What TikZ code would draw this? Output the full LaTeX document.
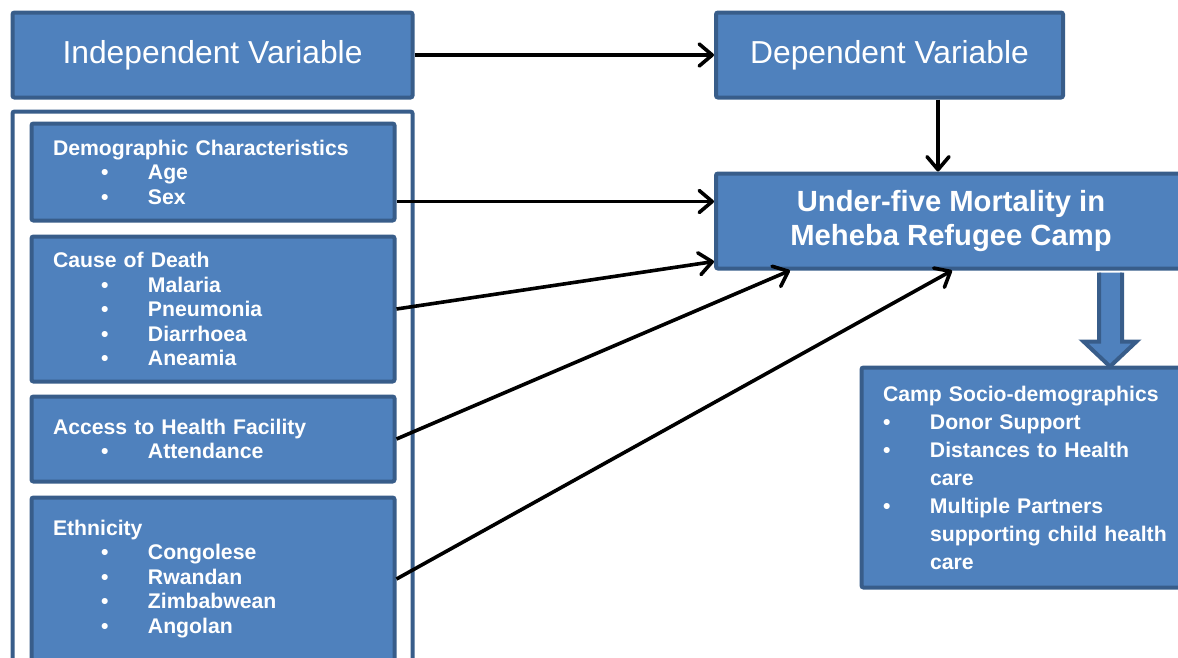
\documentclass[tikz,border=0pt]{standalone}
\usepackage{fontspec}
\setmainfont{Liberation Sans}
\usepackage{tikz}
\usetikzlibrary{arrows.meta,positioning,calc}
\definecolor{boxfill}{RGB}{79,129,189}
\definecolor{boxline}{RGB}{56,93,138}
% bullet line: indent, bullet, item
\newcommand{\bitem}[2][48pt]{\\\hspace*{#1}\makebox[47pt][l]{\textbullet}#2}

\begin{document}
\begin{tikzpicture}[x=1pt, y=-1pt,
    box/.style={draw=boxline, fill=boxfill, line width=4pt, rounded corners=2pt,
      text=white, anchor=north west},
    title/.style={box, minimum width=#1, minimum height=85pt,
      font=\fontsize{31.8pt}{38pt}\selectfont},
    catbox/.style={box, minimum height=#1, text width=320pt, inner xsep=21.5pt,
      align=left, font=\bfseries\fontsize{21.2pt}{24.5pt}\selectfont},
    link/.style={-{Straight Barb[length=13pt,width=22pt,round]}, line width=3.6pt},
    bigarrow/.style={draw=boxline, fill=boxfill, line width=4pt, line join=miter}]
    \useasboundingbox (0,0) rectangle (1178,657);
    % top row
    \node[title=400pt] (iv) at (10.5,10.5) {Independent Variable};
    \node[title=347pt] (dv) at (714,10.5) {Dependent Variable};
    % left panel with the four factor groups
    \node[box, fill=white, minimum width=400pt, minimum height=590pt] (panel) at (10.5,109.5) {};
    \node[catbox=97pt] (demo) at (29.5,121.5)
      {Demographic Characteristics\bitem{Age}\bitem{Sex}};
    \node[catbox=145pt] (cause) at (29.5,234.5)
      {Cause of Death\bitem{Malaria}\bitem{Pneumonia}\bitem{Diarrhoea}\bitem{Aneamia}};
    \node[catbox=85pt] (access) at (29.5,394.5)
      {Access to Health Facility\bitem{Attendance}};
    \node[catbox=163pt] (eth) at (29.5,495.5)
      {Ethnicity\bitem{Congolese}\bitem{Rwandan}\bitem{Zimbabwean}\bitem{Angolan}};
    % outcome
    \node[box, minimum width=470pt, minimum height=95pt, align=center,
      font=\bfseries\fontsize{29.2pt}{34pt}\selectfont] (mort) at (714,171.5)
      {Under-five Mortality in\\Meheba Refugee Camp};
    \node[box, minimum height=220pt, text width=297pt, inner xsep=21.5pt, align=left,
      font=\bfseries\fontsize{21.2pt}{28pt}\selectfont] (camp) at (859.5,365.5)
      {Camp Socio-demographics\bitem[0pt]{Donor Support}\bitem[0pt]{Distances to Health}%
       \\\hspace*{47pt}care\bitem[0pt]{Multiple Partners}%
       \\\hspace*{47pt}supporting child health\\\hspace*{47pt}care};
    % block arrow down to the camp box
    \draw[bigarrow] ($(mort.south east)+(-89,2)$) -- ++(0,69) -- ++(-15.5,0)
      -- ++(26.5,25) -- ++(26.5,-25) -- ++(-14.5,0) -- ++(0,-69);
    % connectors
    \coordinate (dvx) at (938,0);
    \coordinate (d1) at ($(demo.south east)+(0,-21)$);
    \draw[link] (iv) -- (dv);
    \draw[link] (dv.south -| dvx) -- (mort.north -| dvx);
    \draw[link] (d1) -- (mort.west |- d1);
    \draw[link] (cause.east) -- ($(mort.south west)+(0,-9)$);
    \draw[link] (access.east) -- ($(mort.south west)+(76,0)$);
    \draw[link] (eth.east) -- ($(mort.south west)+(238,0)$);
\end{tikzpicture}
\end{document}
